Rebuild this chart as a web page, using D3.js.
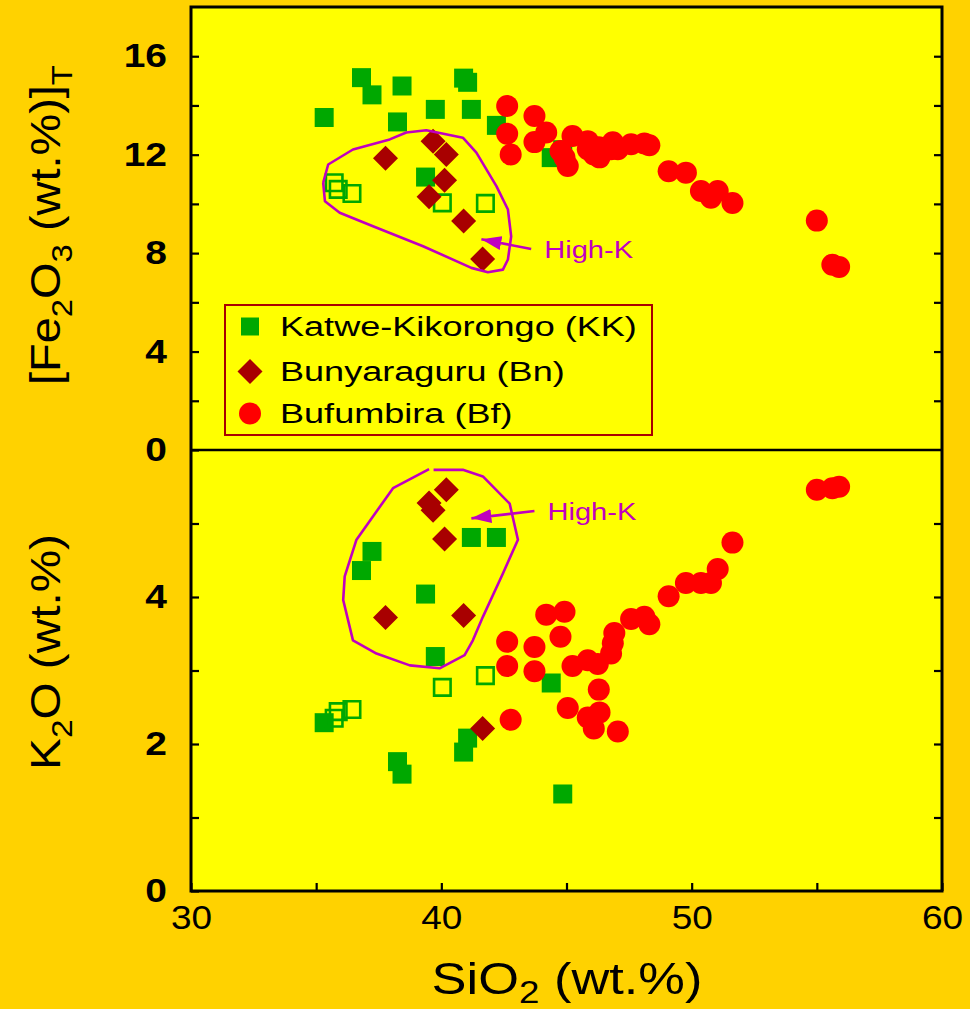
<!DOCTYPE html>
<html>
<head>
<meta charset="utf-8">
<script src="https://cdn.jsdelivr.net/npm/d3@7"></script>
<style>
  html, body { margin: 0; padding: 0; background: #FFD200; }
  svg { display: block; }
  text { font-family: "Liberation Sans", Arial, Helvetica, sans-serif; fill: #000; }
</style>
</head>
<body>
<svg id="chart" width="970" height="1009"></svg>
<script>
// ---- Katwe-Kikorongo (filled squares) : SiO2, Fe2O3(T), K2O in wt.% ----
const kkSiO2 = [36.81, 37.23, 38.43, 40.89, 41.05, 35.32, 38.25, 39.76, 41.20, 42.20, 39.37, 44.39, 44.85];
const kkFe   = [15.13, 14.43, 14.79, 15.11, 14.94, 13.51, 13.33, 13.84, 13.84, 13.19, 11.09, 11.88, 12.20];
const kkK    = [4.36, 4.62, 1.59, 1.89, 2.08, 2.29, 1.76, 3.19, 4.81, 4.81, 4.04, 2.83, 1.32];

// ---- Katwe-Kikorongo (open squares) ----
const kkOpenSiO2 = [35.72, 35.88, 36.43, 40.04, 41.76];
const kkOpenFe   = [10.86, 10.59, 10.42, 10.04, 10.02];
const kkOpenK    = [2.35, 2.44, 2.47, 2.77, 2.93];

// ---- Bunyaraguru (diamonds) ----
const bnSiO2 = [37.77, 39.67, 40.20, 40.13, 39.51, 40.89, 41.65];
const bnFe   = [11.85, 12.55, 12.01, 10.96, 10.29, 9.30, 7.76];
const bnK    = [3.72, 5.18, 5.46, 4.79, 5.28, 3.75, 2.21];

// ---- Bufumbira (circles) ----
const bfSiO2 = [42.63, 42.63, 42.77, 43.72, 43.72, 44.19, 44.76, 44.92, 45.05, 45.24, 45.85, 45.85,
                46.25, 46.29, 46.32, 46.09, 46.78, 46.85, 46.91, 47.05, 47.58, 48.11, 48.31, 49.08,
                49.77, 50.37, 50.77, 51.04, 51.63, 55.00, 55.62, 55.89];
const bfFe   = [13.98, 12.85, 12.01, 13.57, 12.51, 12.90, 12.15, 11.88, 11.54, 12.76, 12.55, 12.22,
                12.08, 12.30, 11.89, 12.01, 12.22, 12.50, 12.35, 12.22, 12.42, 12.45, 12.38, 11.33,
                11.27, 10.52, 10.25, 10.52, 10.04, 9.32, 7.53, 7.44];
const bfK    = [3.39, 3.06, 2.33, 3.32, 2.99, 3.76, 3.46, 3.80, 2.49, 3.06, 3.14, 2.36,
                3.09, 2.74, 2.43, 2.21, 3.23, 3.37, 3.51, 2.17, 3.70, 3.73, 3.63, 4.01,
                4.19, 4.19, 4.19, 4.38, 4.74, 5.46, 5.48, 5.50];

// ---- High-K field outlines [SiO2, value] ----
const highKFeOutline = [[35.28,10.86],[35.48,11.60],[36.47,12.21],[37.94,12.62],[38.60,12.90],[39.40,12.99],
  [40.86,12.69],[41.40,12.08],[42.20,10.72],[42.66,9.77],[42.79,8.68],[42.66,7.74],[42.46,7.33],
  [41.86,7.22],[41.20,7.40],[39.27,8.28],[37.27,9.09],[35.94,9.64],[35.35,10.11],[35.28,10.86]];
const highKKOutline = [[39.69,5.73],[40.86,5.73],[41.66,5.64],[42.73,5.27],[43.06,4.78],[42.46,4.32],
  [41.66,3.73],[41.26,3.41],[40.93,3.21],[39.93,3.03],[38.74,3.07],[37.41,3.23],[36.47,3.41],
  [36.08,3.96],[36.14,4.28],[36.61,4.78],[38.07,5.48],[39.51,5.74]];
// arrow [from, to]
const highKFeArrow = [[43.59, 8.17], [41.60, 8.56]];
const highKKArrow  = [[43.72, 5.17], [41.20, 5.07]];

// ---- Axes ----
const xTicks = [30, 35, 40, 45, 50, 55, 60];
const xTickLabels = [30, 40, 50, 60];
const feTicks = [0, 2, 4, 6, 8, 10, 12, 14, 16];
const feTickLabels = [0, 4, 8, 12, 16];
const kTicks = [1, 2, 3, 4, 5];
const kTickLabels = [0, 2, 4];

const legendNames = ["Katwe-Kikorongo (KK)", "Bunyaraguru (Bn)", "Bufumbira (Bf)"];

const GREEN = "#00A800", DARKRED = "#A80000", RED = "#FF0000", MAGENTA = "#C000C0";

const svg = d3.select("#chart");
const plotL = 191, plotR = 942, plotT = 7, plotM = 450, plotB = 891;

const x = d3.scaleLinear().domain([30, 60]).range([plotL, plotR]);
const yFe = d3.scaleLinear().domain([0, 18]).range([plotM, plotT]);
const yK = d3.scaleLinear().domain([0, 6]).range([plotB, plotM]);

// plot background
svg.append("rect").attr("x", plotL).attr("y", plotT)
  .attr("width", plotR - plotL).attr("height", plotB - plotT).attr("fill", "#FFFF00");

// diamond = square rotated 45°, size = half-diagonal squared
const diamondType = {
  draw(ctx, size) {
    const r = Math.sqrt(size);
    ctx.moveTo(0, -r); ctx.lineTo(r, 0); ctx.lineTo(0, r); ctx.lineTo(-r, 0); ctx.closePath();
  }
};
const squarePath = d3.symbol(d3.symbolSquare, 19 * 19)();
const openSquarePath = d3.symbol(d3.symbolSquare, 16.5 * 16.5)();
const diamondPath = d3.symbol(diamondType, 12.5 * 12.5)();
const circlePath = d3.symbol(d3.symbolCircle, Math.PI * 11 * 11)();

function drawPanel(yScale, kkV, kkOpenV, bnV, bfV) {
  const g = svg.append("g");
  g.selectAll(null).data(kkSiO2.map((s, i) => [s, kkV[i]])).join("path")
    .attr("d", squarePath).attr("fill", GREEN)
    .attr("transform", d => `translate(${x(d[0])},${yScale(d[1])})`);
  g.selectAll(null).data(kkOpenSiO2.map((s, i) => [s, kkOpenV[i]])).join("path")
    .attr("d", openSquarePath).attr("fill", "none").attr("stroke", GREEN).attr("stroke-width", 2.6)
    .attr("transform", d => `translate(${x(d[0])},${yScale(d[1])})`);
  g.selectAll(null).data(bnSiO2.map((s, i) => [s, bnV[i]])).join("path")
    .attr("d", diamondPath).attr("fill", DARKRED)
    .attr("transform", d => `translate(${x(d[0])},${yScale(d[1])})`);
  g.selectAll(null).data(bfSiO2.map((s, i) => [s, bfV[i]])).join("path")
    .attr("d", circlePath).attr("fill", RED)
    .attr("transform", d => `translate(${x(d[0])},${yScale(d[1])})`);
}
drawPanel(yFe, kkFe, kkOpenFe, bnFe, bfFe);
drawPanel(yK, kkK, kkOpenK, bnK, bfK);

// horizontal stretch of a text element to a given width, keeping its anchor
function stretch(t, width, anchor) {
  const bb = t.node().getBBox();
  const k = width / bb.width;
  const ax = anchor === "start" ? bb.x : anchor === "end" ? bb.x + bb.width : bb.x + bb.width / 2;
  const prev = t.attr("transform") || "";
  t.attr("transform", `${prev} translate(${ax},0) scale(${k},1) translate(${-ax},0)`);
}

// High-K annotations
svg.append("defs").append("marker")
  .attr("id", "head").attr("markerUnits", "userSpaceOnUse")
  .attr("viewBox", "0 -8 20 16").attr("refX", 20).attr("refY", 0)
  .attr("markerWidth", 20).attr("markerHeight", 16).attr("orient", "auto")
  .append("path").attr("d", "M0,-7L20,0L0,7Z").attr("fill", MAGENTA);

function highK(yScale, outline, arrow) {
  const line = d3.line().x(d => x(d[0])).y(d => yScale(d[1]));
  svg.append("path").attr("d", line(outline)).attr("fill", "none")
    .attr("stroke", MAGENTA).attr("stroke-width", 2.6).attr("stroke-linejoin", "round");
  svg.append("line")
    .attr("x1", x(arrow[0][0])).attr("y1", yScale(arrow[0][1]))
    .attr("x2", x(arrow[1][0])).attr("y2", yScale(arrow[1][1]))
    .attr("stroke", MAGENTA).attr("stroke-width", 2.6).attr("marker-end", "url(#head)");
  const t = svg.append("text")
    .attr("x", x(arrow[0][0]) + 13).attr("y", yScale(arrow[0][1]) + 9)
    .attr("font-size", 24).style("fill", MAGENTA).text("High-K");
  stretch(t, 89, "start");
}
highK(yFe, highKFeOutline, highKFeArrow);
highK(yK, highKKOutline, highKKArrow);

// legend
const lg = svg.append("g");
lg.append("rect").attr("x", 225).attr("y", 305).attr("width", 427).attr("height", 130)
  .attr("fill", "#FFFF00").attr("stroke", DARKRED).attr("stroke-width", 2);
const legendPaths = [
  { d: d3.symbol(d3.symbolSquare, 18 * 18)(), fill: GREEN },
  { d: d3.symbol(diamondType, 12.5 * 12.5)(), fill: DARKRED },
  { d: circlePath, fill: RED }
];
const rowY = [326.5, 371.5, 413.5];
let legendScale = null;
legendNames.forEach((name, i) => {
  lg.append("path").attr("d", legendPaths[i].d).attr("fill", legendPaths[i].fill)
    .attr("transform", `translate(250,${rowY[i]})`);
  const t = lg.append("text").attr("x", 280).attr("y", rowY[i] + 10)
    .attr("font-size", 27).text(name);
  if (legendScale === null) legendScale = 357 / t.node().getBBox().width;
  t.attr("transform", `translate(280,0) scale(${legendScale},1) translate(-280,0)`);
});

// ticks; labels get a slight horizontal widening about their anchor
function tickStyle(weight, widen) {
  return g => {
    g.select(".domain").remove();
    g.selectAll(".tick line").attr("stroke", "#000").attr("stroke-width", 2.2);
    g.selectAll(".tick text").attr("font-size", 33).attr("fill", "#000")
      .attr("font-weight", weight)
      .style("font-family", '"Liberation Sans", Arial, sans-serif')
      .each(function () {
        const t = d3.select(this);
        const ax = +t.attr("x") || 0;
        t.attr("transform", `translate(${ax},0) scale(${widen},1) translate(${-ax},0)`);
      });
  };
}
svg.append("g").attr("transform", `translate(0,${plotB})`)
  .call(d3.axisBottom(x).tickValues(xTicks).tickSize(-8).tickPadding(15)
    .tickFormat(d => xTickLabels.includes(d) ? d : ""))
  .call(tickStyle("normal", 1.12));
svg.append("g").attr("transform", `translate(${plotL},0)`)
  .call(d3.axisLeft(yFe).tickValues(feTicks).tickSize(-8).tickPadding(24)
    .tickFormat(d => feTickLabels.includes(d) ? d : ""))
  .call(tickStyle("bold", 1.18));
svg.append("g").attr("transform", `translate(${plotL},0)`)
  .call(d3.axisLeft(yK).tickValues([0, ...kTicks]).tickSize(-8).tickPadding(24)
    .tickFormat(d => kTickLabels.includes(d) ? d : ""))
  .call(tickStyle("bold", 1.18));
svg.append("g").attr("transform", `translate(${plotR},0)`)
  .call(d3.axisRight(yFe).tickValues(feTicks.filter(d => d > 0)).tickSize(-8).tickFormat(""))
  .call(tickStyle("normal", 1));
svg.append("g").attr("transform", `translate(${plotR},0)`)
  .call(d3.axisRight(yK).tickValues(kTicks).tickSize(-8).tickFormat(""))
  .call(tickStyle("normal", 1));

// frame and panel divider
svg.append("rect").attr("x", plotL).attr("y", plotT)
  .attr("width", plotR - plotL).attr("height", plotB - plotT)
  .attr("fill", "none").attr("stroke", "#000").attr("stroke-width", 3);
svg.append("line").attr("x1", plotL).attr("x2", plotR).attr("y1", plotM).attr("y2", plotM)
  .attr("stroke", "#000").attr("stroke-width", 2.4);

// axis titles with subscripts
function richText(parent, parts, size, subShift) {
  const t = parent.append("text").attr("font-size", size).attr("text-anchor", "middle");
  let shifted = false;
  parts.forEach(([s, sub]) => {
    const ts = t.append("tspan").text(s);
    if (sub && !shifted) { ts.attr("font-size", size * 0.7).attr("dy", size * subShift); shifted = true; }
    else if (sub) { ts.attr("font-size", size * 0.7); }
    else if (shifted) { ts.attr("dy", -size * subShift); shifted = false; }
  });
  return t;
}
const xTitle = svg.append("g").attr("transform", "translate(567,994)");
stretch(richText(xTitle, [["SiO"], ["2", true], [" (wt.%)"]], 44, 0.2), 271, "middle");

const feTitle = svg.append("g").attr("transform", "translate(60,225) rotate(-90)");
stretch(richText(feTitle, [["[Fe"], ["2", true], ["O"], ["3", true], [" (wt.%)]"], ["T", true]], 42, 0.28), 320, "middle");

const kTitle = svg.append("g").attr("transform", "translate(60,652) rotate(-90)");
stretch(richText(kTitle, [["K"], ["2", true], ["O (wt.%)"]], 42, 0.28), 236, "middle");
</script>
</body>
</html>
